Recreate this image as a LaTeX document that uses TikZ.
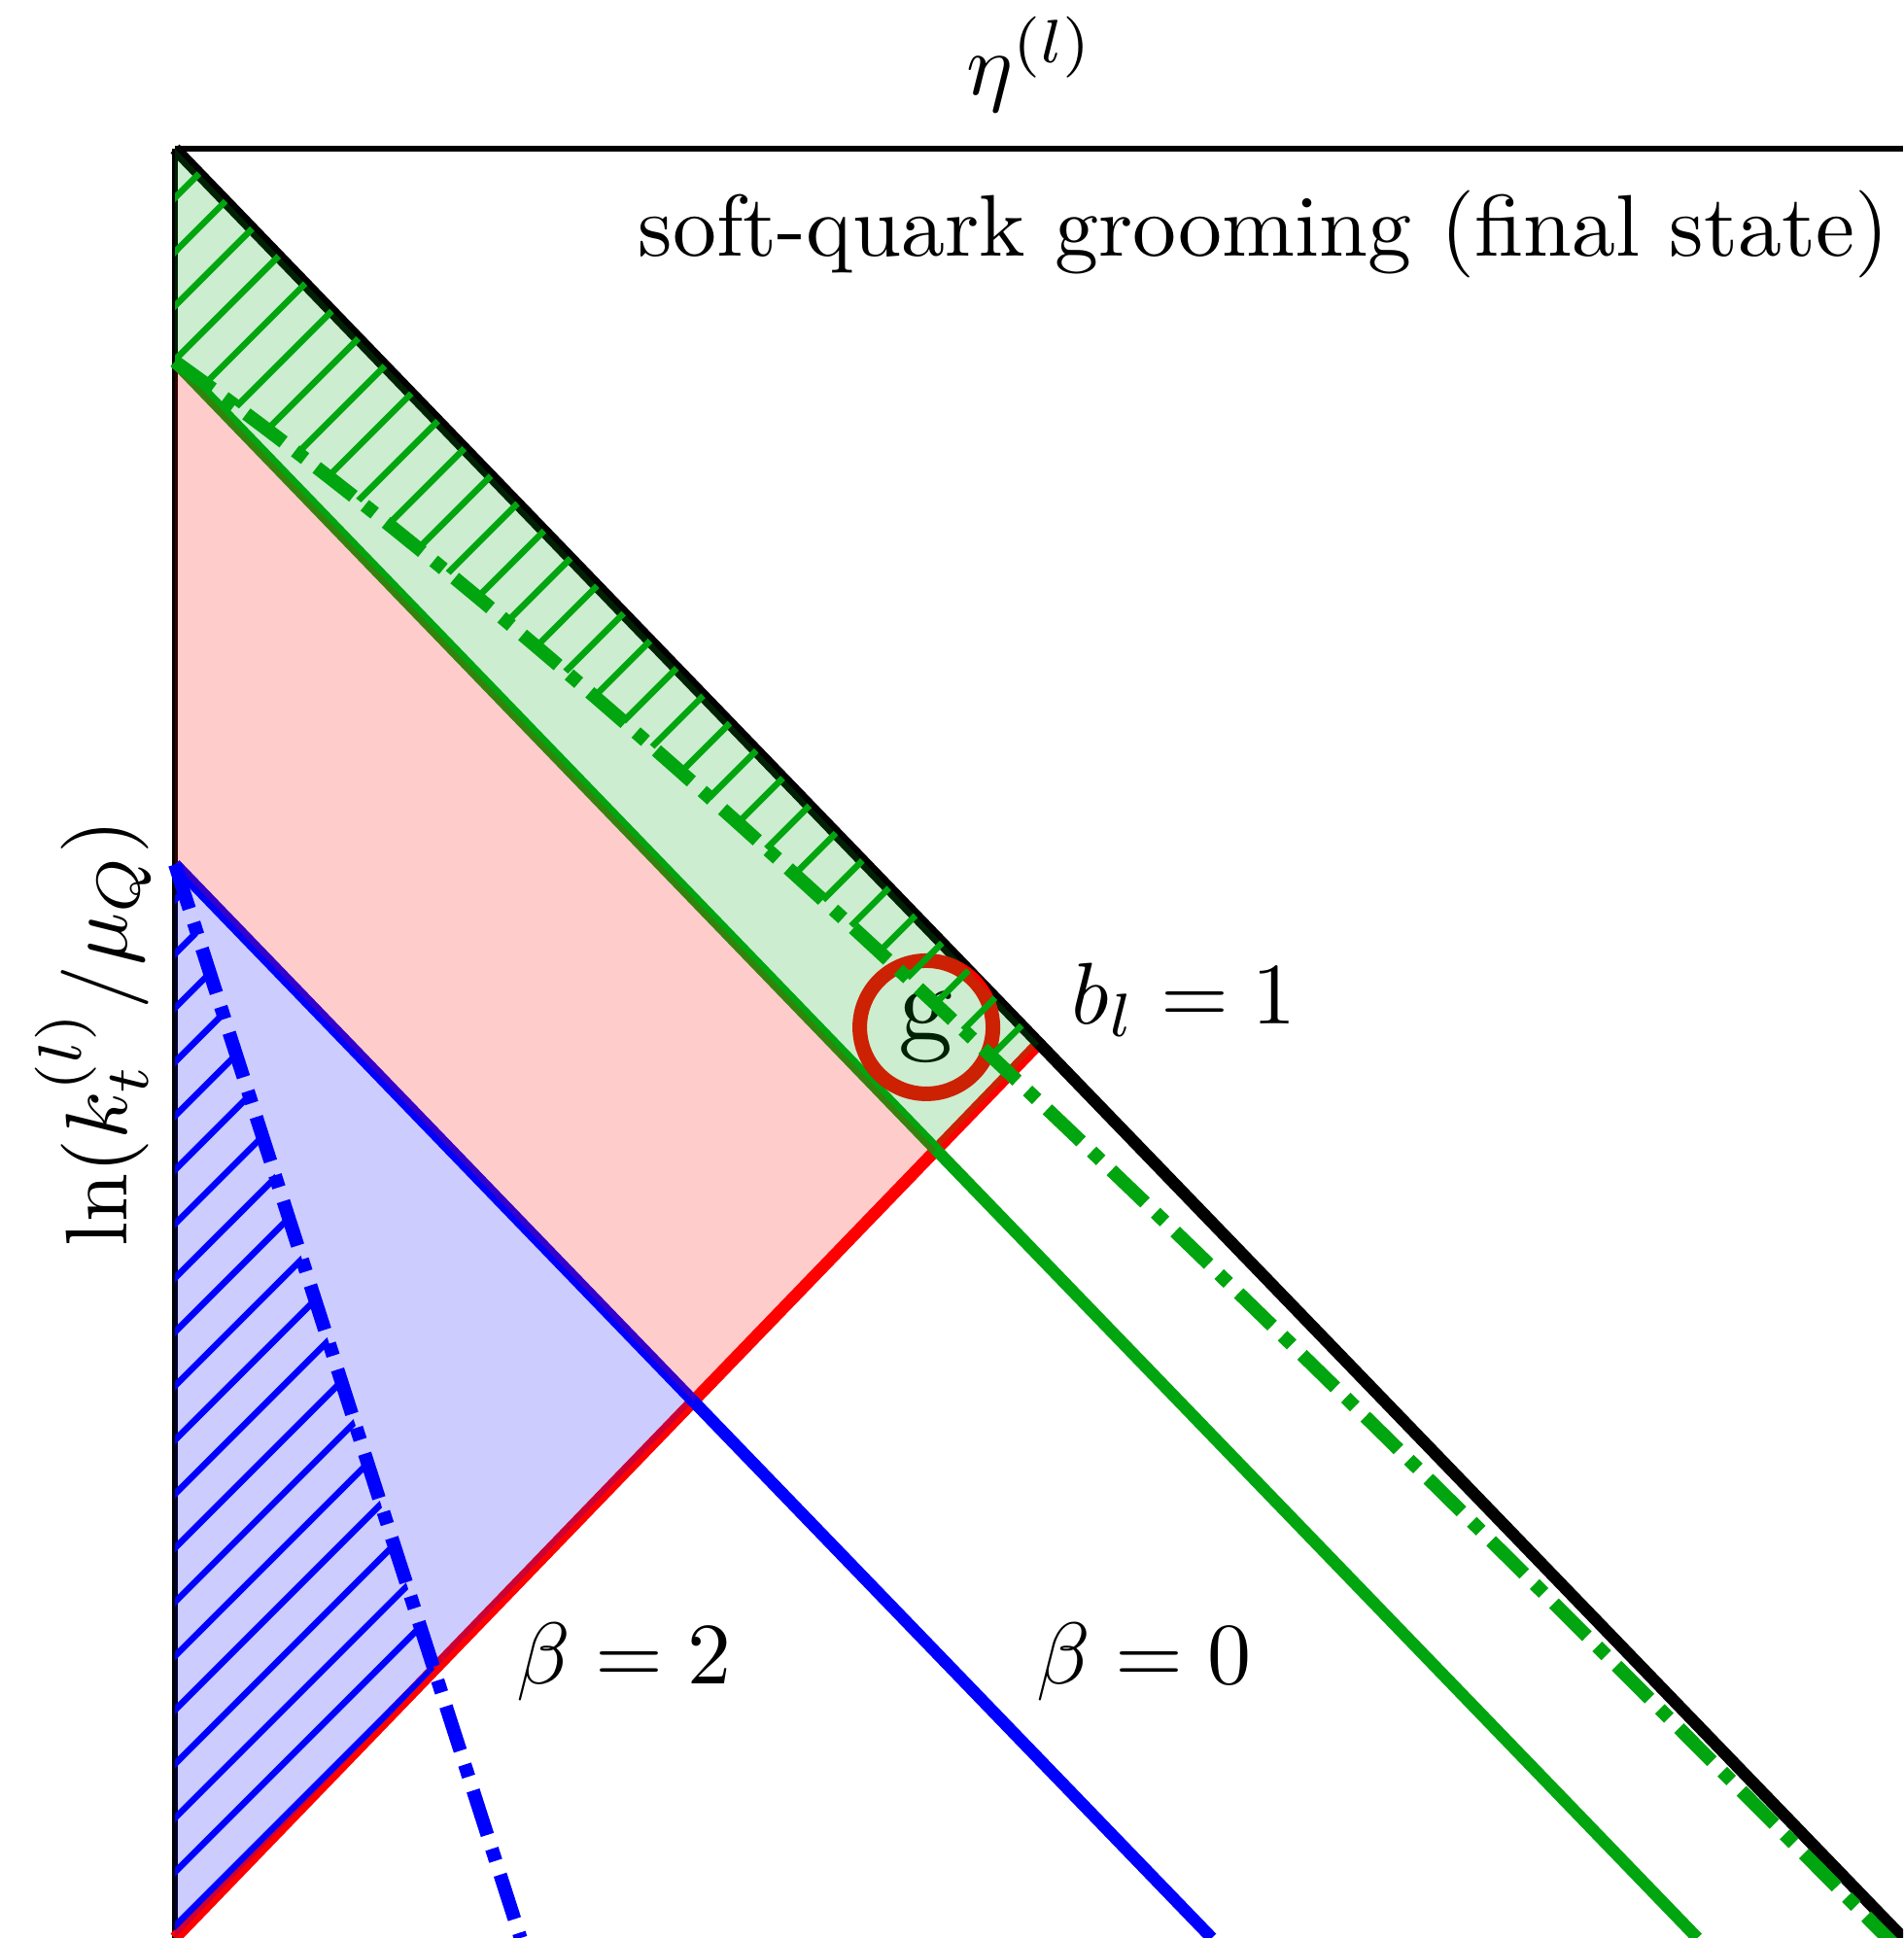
\documentclass[tikz,border=0pt]{standalone}
\usepackage{amsmath}
\usepackage{graphicx}
\usepackage{xcolor}

\definecolor{mgreen}{RGB}{0,165,15}
\definecolor{mred}{RGB}{255,0,0}
\definecolor{mblue}{RGB}{0,0,255}

\newcommand{\lab}[1]{\scalebox{2.56}{#1}}

\tikzset{
  lbl/.style={inner sep=0pt},
  axisln/.style={line width=0.06cm},
  thickln/.style={line width=0.125cm},
  ddline/.style={line width=0.14cm, dash pattern=on 0.48cm off 0.15cm on 0.13cm off 0.15cm},
  hatchln/.style={line width=0.065cm},
  tint/.style={fill opacity=0.2},
}

\begin{document}
\begin{tikzpicture}[x=17.78cm, y=-18.41cm]
    \useasboundingbox (-0.10124,-0.08311) rectangle (1,1);
    \clip (-0.10124,-0.08311) rectangle (1,1);

    % Corners of the regions
    \coordinate (O) at (0,0);
    \coordinate (gs) at (0,0.119);
    \coordinate (bs) at (0,0.4);
    \coordinate (lo) at (0,1);
    \coordinate (bl) at (0.5,0.5);
    \coordinate (xg) at (0.4405,0.5595);
    \coordinate (xb) at (0.3,0.7);
    \coordinate (xd) at (0.15,0.85);

    % Axes and boundary lines
    \draw[axisln] (O) -- (1,0);
    \draw[axisln] (O) -- (lo);
    \draw[thickln, mred] (lo) -- (bl);
    \draw[thickln] (O) -- (1,1);
    \draw[thickln, mgreen] (gs) -- (0.881,1);
    \draw[thickln, mblue] (bs) -- (0.6,1);
    \node[circle, draw=mred, line width=0.15cm, minimum size=1.37cm, inner sep=0pt] (glu)
        at (0.4348,0.491) {\scalebox{3.2}{g}};

    % Filled regions
    \fill[mgreen, tint] (O) -- (bl) -- (xg) -- (gs) -- cycle;
    \fill[mred, tint] (gs) -- (xg) -- (xb) -- (bs) -- cycle;
    \fill[mblue, tint] (bs) -- (xb) -- (lo) -- cycle;

    % Hatching
    \begin{scope}
        \clip (O) -- (bl) -- (xg) -- (gs) -- cycle;
        \clip plot[domain=0:1, samples=60] (\x, {\x+0.119*exp(-2.6*\x)}) -- (1,-0.1) -- (0,-0.1) -- cycle;
        \begin{scope}[x=0.01cm, y=-0.01cm, shift={(-180,-153)}]
            \foreach \k in {-15,...,19}
                \draw[hatchln, mgreen] (0,{1162+55.6*\k}) -- ({1162+55.6*\k},0);
        \end{scope}
    \end{scope}
    \begin{scope}
        \clip (bs) -- (xd) -- (lo) -- cycle;
        \begin{scope}[x=0.01cm, y=-0.01cm, shift={(-180,-153)}]
            \foreach \k in {-15,...,19}
                \draw[hatchln, mblue] (0,{1162+55.6*\k}) -- ({1162+55.6*\k},0);
        \end{scope}
    \end{scope}

    % Grooming conditions
    \draw[ddline, mgreen] plot[domain=0:1, samples=80] (\x, {\x+0.119*exp(-2.6*\x)});
    \draw[ddline, mblue] (bs) -- (0.2,1);

    % Labels
    \node[lbl, anchor=base] (eta) at (0.495,-0.0304) {\lab{$\eta^{(l)}$}};
    \node[lbl, anchor=base east] (title) at (0.9921,0.05975) {\lab{soft-quark grooming (final state)}};
    \node[lbl, anchor=base west] (blab) at (0.5186,0.4889) {\lab{$b_l = 1$}};
    \node[lbl, anchor=base west] (beta2) at (0.1974,0.8582) {\lab{$\beta = 2$}};
    \node[lbl, anchor=base west] (beta0) at (0.4983,0.8582) {\lab{$\beta = 0$}};
    \node[lbl, rotate=90, anchor=base] (ylab) at (-0.0281,0.4943) {\lab{$\ln(k_t^{(l)}/\mu_Q)$}};
\end{tikzpicture}
\end{document}
